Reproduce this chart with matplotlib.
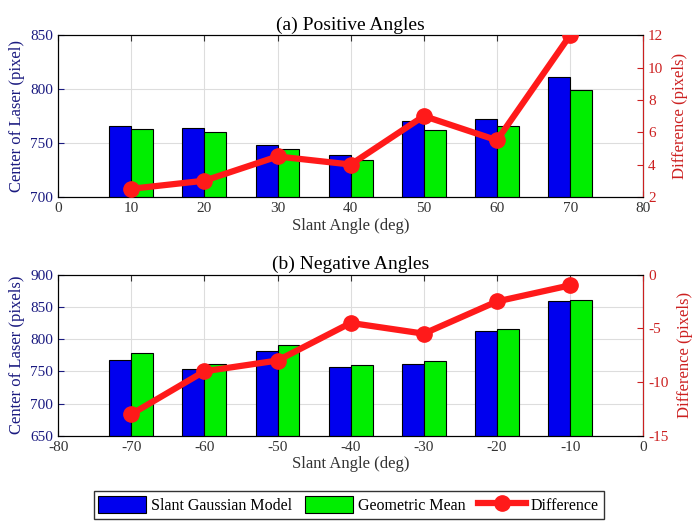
import matplotlib
matplotlib.use("Agg")
import matplotlib.pyplot as plt
from matplotlib.patches import Patch
from matplotlib.lines import Line2D
import numpy as np

plt.rcParams['font.family'] = ['Liberation Serif', 'DejaVu Serif']
plt.rcParams['font.size'] = 11
plt.rcParams['axes.unicode_minus'] = False

pos_angles = [10, 20, 30, 40, 50, 60, 70]
pos_gauss = [766, 764, 748, 739, 770, 772, 811]
pos_geo = [763, 760, 744, 734, 762, 766, 799]
pos_diff = [2.5, 3.0, 4.5, 4.0, 7.0, 5.5, 12.0]

neg_angles = [-70, -60, -50, -40, -30, -20, -10]
neg_gauss = [767, 753, 781, 756, 761, 813, 859]
neg_geo = [779, 761, 790, 759, 766, 816, 861]
neg_diff = [-13.0, -9.0, -8.0, -4.5, -5.5, -2.5, -1.0]

blue = '#0000ee'
green = '#00ee00'
red = '#ff1a1a'
lcol = '#1a1a80'
rcol = '#cc2020'
xcol = '#333333'

fig = plt.figure(figsize=(7, 5.25), dpi=100)

def panel(rect, angles, g1, g2, diff, ylim, yticks, ylim2, yticks2, xlim, xticks, title, ylabel, ylabel2):
    ax = fig.add_axes(rect)
    w = 3
    ax.bar(np.array(angles) - w/2, g1, width=w, color=blue, edgecolor='black', linewidth=0.8, zorder=2)
    ax.bar(np.array(angles) + w/2, g2, width=w, color=green, edgecolor='black', linewidth=0.8, zorder=2)
    ax.set_ylim(*ylim)
    ax.set_yticks(yticks)
    ax.set_xlim(*xlim)
    ax.set_xticks(xticks)
    ax.grid(True, color='#dddddd', linewidth=0.8, zorder=0)
    ax.set_axisbelow(True)
    ax.tick_params(axis='y', colors=lcol, direction='in', length=4, labelsize=11)
    ax.tick_params(axis='x', colors=xcol, direction='in', length=4, labelsize=11, top=True)
    ax.set_xlabel('Slant Angle (deg)', color=xcol, fontsize=12, labelpad=2)
    ax.set_ylabel(ylabel, color=lcol, fontsize=12, labelpad=4)
    ax.set_title(title, fontsize=14, pad=4)
    ax2 = ax.twinx()
    ax2.plot(angles, diff, color=red, linewidth=4.5, marker='o', markersize=11,
             markeredgecolor=red, markerfacecolor=red, zorder=5)
    ax2.set_ylim(*ylim2)
    ax2.set_yticks(yticks2)
    ax2.tick_params(axis='y', colors=rcol, direction='in', length=4, labelsize=11)
    ax2.spines['right'].set_color(rcol)
    ax2.set_ylabel(ylabel2, color=rcol, fontsize=12, labelpad=6)
    return ax, ax2

panel([0.083, 0.625, 0.836, 0.308], pos_angles, pos_gauss, pos_geo, pos_diff,
      (700, 850), [700, 750, 800, 850], (2, 12), [2, 4, 6, 8, 10, 12],
      (0, 80), [0, 10, 20, 30, 40, 50, 60, 70, 80],
      '(a) Positive Angles', 'Center of Laser (pixel)', 'Difference (pixels)')

panel([0.083, 0.170, 0.836, 0.307], neg_angles, neg_gauss, neg_geo, neg_diff,
      (650, 900), [650, 700, 750, 800, 850, 900], (-15, 0), [-15, -10, -5, 0],
      (-80, 0), [-80, -70, -60, -50, -40, -30, -20, -10, 0],
      '(b) Negative Angles', 'Center of Laser (pixels)', 'Difference (pixels)')

handles = [Patch(facecolor=blue, edgecolor='black', linewidth=0.8),
           Patch(facecolor=green, edgecolor='black', linewidth=0.8),
           Line2D([0], [0], color=red, linewidth=4.5, marker='o', markersize=11)]
fig.legend(handles, ['Slant Gaussian Model', 'Geometric Mean', 'Difference'],
           loc='center', bbox_to_anchor=(0.498, 0.038), ncol=3, frameon=True,
           fancybox=False, edgecolor='black', fontsize=11.5, handlelength=3.0,
           handleheight=1.2, columnspacing=0.8, handletextpad=0.3, borderpad=0.3)

fig.savefig('out.png', dpi=100)
